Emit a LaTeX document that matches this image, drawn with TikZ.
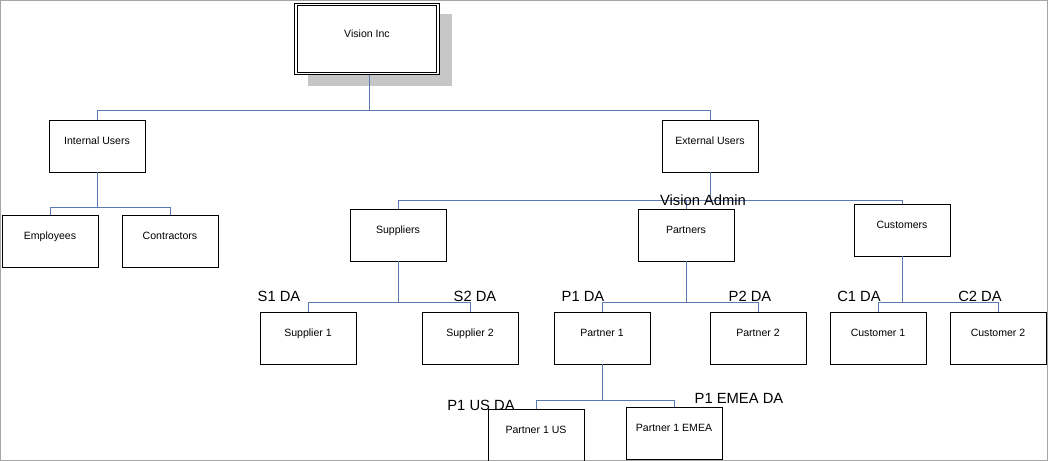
\documentclass[tikz,border=0pt]{standalone}
\usepackage{fontspec}
\setmainfont{Liberation Sans}
\usetikzlibrary{positioning}
\definecolor{linkblue}{RGB}{90,120,180}

\begin{document}
\begin{tikzpicture}[x=0.025cm,y=-0.025cm,
    box/.style={draw, line width=0.6pt, minimum width=2.4cm, minimum height=1.3cm, inner sep=0pt, text depth=0.25cm, font=\fontsize{7.5}{8}\selectfont},
    link/.style={draw=linkblue, line width=0.65pt},
    tag/.style={font=\fontsize{10.5}{12}\selectfont, inner sep=0pt}]
    % Frame
    \draw[gray!70, line width=0.6pt] (0.5,0.5) rectangle (1047.5,460.5);
    \useasboundingbox (0,0) rectangle (1048,461);

    % Top
    \fill[gray!45] (308,14) rectangle (452,86);
    \node[box, fill=white, double, double distance=1.2pt, minimum width=3.55cm, minimum height=1.72cm] (vis) at (367,39) {Vision Inc};

    % Level 1
    \node[box] (int) at (97,146) {Internal Users};
    \node[box] (ext) at (710,146) {External Users};

    % Level 2
    \node[box] (emp) at (50,241) {Employees};
    \node[box] (con) at (170,241) {Contractors};
    \node[box] (sup) at (398,235) {Suppliers};
    \node[box] (par) at (686,235) {Partners};
    \node[box] (cus) at (902,230) {Customers};

    % Level 3
    \node[box] (s1) at (308,338) {Supplier 1};
    \node[box] (s2) at (470,338) {Supplier 2};
    \node[box] (p1) at (602,338) {Partner 1};
    \node[box] (p2) at (758,338) {Partner 2};
    \node[box] (c1) at (878,338) {Customer 1};
    \node[box] (c2) at (998,338) {Customer 2};

    % Level 4
    \node[box] (p1us) at (536,435) {Partner 1 US};
    \node[box] (p1eu) at (674,433) {Partner 1 EMEA};

    % Bus points
    \coordinate (b0) at (369,110);
    \coordinate (b1) at (97,207);
    \coordinate (b2) at (710,200);
    \coordinate (b3) at (398,302);
    \coordinate (b4) at (686,302);
    \coordinate (b5) at (902,302);
    \coordinate (b6) at (602,400);

    % Connectors
    \draw[link] (369,75) -- (b0) -| (int); \draw[link] (b0) -| (ext);
    \draw[link] (int) -- (b1) -| (emp); \draw[link] (b1) -| (con);
    \draw[link] (ext) -- (b2) -| (sup); \draw[link] (b2) -| (par); \draw[link] (b2) -| (cus);
    \draw[link] (sup) -- (b3) -| (s1); \draw[link] (b3) -| (s2);
    \draw[link] (par) -- (b4) -| (p1); \draw[link] (b4) -| (p2);
    \draw[link] (cus) -- (b5) -| (c1); \draw[link] (b5) -| (c2);
    \draw[link] (p1) -- (b6) -| (p1us); \draw[link] (b6) -| (p1eu);

    % Labels
    \node[tag] (lva) at (703,200) {Vision Admin};
    \node[tag] (ls1) at (279,296) {S1 DA};
    \node[tag] (ls2) at (475,296) {S2 DA};
    \node[tag] (lp1) at (583,296) {P1 DA};
    \node[tag] (lp2) at (750,296) {P2 DA};
    \node[tag] (lc1) at (859,296) {C1 DA};
    \node[tag] (lc2) at (980,296) {C2 DA};
    \node[tag] (lpus) at (481,405) {P1 US DA};
    \node[tag] (lpeu) at (739,398) {P1 EMEA DA};
\end{tikzpicture}
\end{document}
